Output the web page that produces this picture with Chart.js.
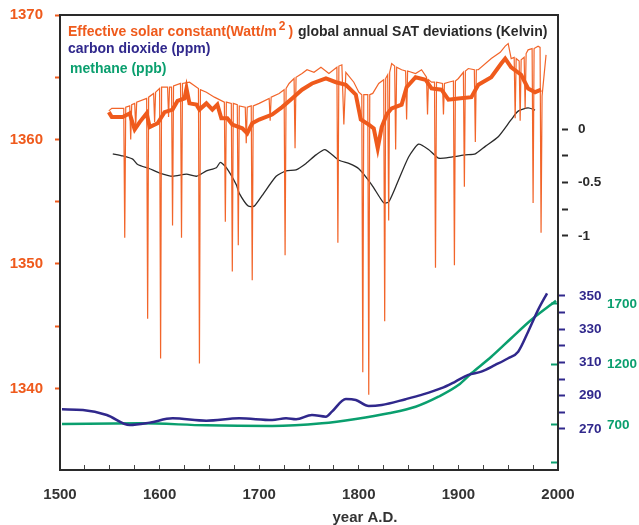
<!DOCTYPE html>
<html><head><meta charset="utf-8">
<script src="https://cdn.jsdelivr.net/npm/chart.js@4.4.1/dist/chart.umd.min.js"></script>
<style>html,body{margin:0;padding:0;background:#fff}#wrap{width:639px;height:525px}</style>
</head><body><div id="wrap"><canvas id="c" width="639" height="525"></canvas></div>
<script>
// ---------- DATA ----------
const xTickYears = [1500,1525,1550,1575,1600,1625,1650,1675,1700,1725,1750,1775,1800,1825,1850,1875,1900,1925,1950,1975,2000];
const xLabelYears = [1500,1600,1700,1800,1900,2000];

const solarTickValues = [1340,1345,1350,1355,1360,1365,1370];
const solarLabelValues = [1340,1350,1360,1370];
const satTickValues = [-1,-0.75,-0.5,-0.25,0];
const satLabelValues = [-1,-0.5,0];
const co2TickValues = [270,280,290,300,310,320,330,340,350];
const co2LabelValues = [270,290,310,330,350];
const ch4TickValues = [390,700,1200,1700];
const ch4LabelValues = [700,1200,1700];

// smoothed effective solar constant (W/m2)
const solarSmoothYears = [1549,1552,1563,1570,1573,1575,1580,1587,1590,1598,
  1605,1613,1618,1625,1627,1630,1637,1640,1647,1653,
  1658,1662,1668,1673,1683,1688,1693,1700,1713,1723,
  1733,1743,1753,1767,1777,1787,1797,1802,1810,1815,
  1819,1823,1828,1833,1843,1848,1857,1867,1873,1883,
  1890,1900,1913,1920,1933,1943,1947,1953,1963,1970,
  1977,1983];
const solarSmoothValues = [1362.2,1361.8,1361.8,1362.1,1361.3,1360.8,1361.4,1362.1,1361.0,1361.3,
  1362.2,1362.4,1363.1,1363.3,1364.1,1362.9,1362.8,1362.4,1362.9,1362.4,
  1362.8,1361.7,1361.7,1361.2,1360.9,1360.5,1361.3,1361.6,1362.0,1362.6,
  1363.3,1364.0,1364.5,1364.9,1364.6,1364.4,1363.6,1361.6,1361.2,1360.9,
  1359.3,1361.0,1362.0,1362.5,1362.8,1364.2,1365.0,1364.8,1364.1,1364.0,
  1363.2,1363.3,1363.4,1364.4,1365.0,1366.1,1366.5,1365.8,1365.2,1364.1,
  1363.8,1364.0];

// annual effective solar constant (W/m2), with volcanic dips
const solarAnnualYears = [1549,1552,1564,1565,1566,1570,1571,1572,1575,1576,
  1577,1587,1588,1589,1594,1595,1596,1600,1601,1602,
  1608,1609,1610,1612,1613,1614,1621,1622,1623,1630,
  1639,1640,1641,1647,1655,1665,1666,1667,1672,1673,
  1674,1678,1679,1680,1686,1687,1688,1692,1693,1694,
  1700,1710,1711,1712,1720,1725,1726,1727,1730,1735,
  1736,1737,1743,1748,1755,1762,1770,1778,1779,1780,
  1783,1785,1787,1795,1800,1803,1804,1805,1809,1810,
  1811,1814,1820,1825,1826,1827,1829,1830,1831,1833,
  1836,1837,1838,1843,1847,1848,1849,1857,1863,1868,
  1869,1870,1873,1876,1877,1878,1884,1885,1886,1890,
  1895,1896,1897,1900,1905,1906,1907,1910,1916,1917,
  1918,1920,1933,1942,1947,1950,1953,1956,1957,1958,
  1961,1962,1963,1966,1967,1968,1970,1974,1975,1976,
  1980,1982,1983,1984,1988];
const solarAnnualValues = [1362.3,1362.5,1362.5,1352.1,1362.6,1362.7,1360.0,1362.8,1362.9,1361.0,
  1363.0,1363.3,1345.6,1363.4,1363.7,1361.4,1363.8,1364.1,1342.4,1364.2,
  1364.2,1361.8,1364.2,1364.2,1353.1,1364.3,1364.5,1352.1,1364.5,1364.6,
  1364.1,1342.0,1364.0,1363.8,1363.4,1363.0,1353.4,1363.0,1362.9,1349.4,
  1362.9,1362.8,1351.5,1362.7,1362.6,1359.7,1362.6,1362.7,1348.7,1362.7,
  1362.9,1363.3,1361.5,1363.4,1363.7,1364.0,1350.7,1364.1,1364.5,1364.9,
  1359.3,1365.0,1365.3,1365.6,1365.4,1365.8,1365.3,1365.8,1351.7,1365.9,
  1366.0,1361.2,1365.4,1364.6,1363.8,1363.6,1341.3,1363.6,1363.6,1339.5,
  1363.6,1363.7,1364.5,1364.8,1345.4,1364.9,1365.2,1353.5,1365.4,1366.1,
  1365.9,1359.2,1365.8,1365.6,1365.5,1361.6,1365.5,1365.3,1365.6,1365.0,
  1362.0,1364.8,1364.6,1364.6,1349.7,1364.6,1364.5,1362.0,1364.5,1364.6,
  1364.7,1349.9,1364.7,1364.9,1365.4,1356.2,1365.5,1365.7,1365.6,1359.8,
  1365.6,1365.6,1366.5,1367.0,1367.5,1367.7,1366.5,1366.6,1361.7,1366.5,
  1366.3,1361.5,1366.4,1366.6,1362.5,1366.9,1367.2,1367.3,1354.9,1367.3,
  1367.5,1367.4,1352.5,1363.5,1366.8];

// global annual SAT deviations (K)
const satYears = [1553,1563,1573,1578,1590,1600,1613,1627,1637,1647,
  1657,1661,1667,1677,1680,1689,1695,1703,1717,1727,
  1737,1747,1757,1766,1780,1790,1800,1813,1825,1830,
  1837,1850,1860,1870,1880,1893,1907,1917,1927,1940,
  1953,1960,1970,1977];
const satValues = [-0.23,-0.25,-0.28,-0.33,-0.37,-0.41,-0.44,-0.42,-0.44,-0.39,
  -0.36,-0.31,-0.36,-0.52,-0.60,-0.72,-0.72,-0.62,-0.44,-0.39,
  -0.38,-0.32,-0.24,-0.19,-0.29,-0.32,-0.37,-0.52,-0.69,-0.68,
  -0.54,-0.26,-0.14,-0.19,-0.27,-0.26,-0.24,-0.23,-0.16,-0.07,
  0.09,0.17,0.20,0.18];

// carbon dioxide (ppm)
const co2Years = [1502,1523,1547,1570,1590,1613,1647,1680,1713,1727,
  1737,1753,1767,1773,1787,1797,1810,1823,1847,1863,
  1883,1897,1910,1923,1937,1950,1960,1970,1980,1989];
const co2Values = [281.8,281.4,278.4,272.4,273.8,276.4,275.0,276.4,275.4,276.4,
  275.8,278.4,277.4,280.4,288.0,287.4,283.8,284.4,287.9,290.5,
  294.5,298.5,302.5,304.5,308.5,312.5,316.5,328.5,341.6,351.6];

// methane (ppb)
const ch4Years = [1502,1580,1647,1713,1763,1797,1830,1857,1880,1900,1913,1933,1953,1973,1998];
const ch4Values = [708,714,697,692,714,750,797,851,934,1030,1127,1264,1417,1568,1727];

const legendSolar = 'Effective solar constant(Watt/m';
const legendSolarSup = '2';
const legendSAT = 'global annual SAT deviations (Kelvin)';
const legendCO2 = 'carbon dioxide (ppm)';
const legendCH4 = 'methane (ppb)';
const xTitle = 'year A.D.';

// ---------- STYLE ----------
const FONT = '"Liberation Sans", Arial, Helvetica, sans-serif';
const ORANGE = '#EF5A1C';
const ORANGE_THIN = '#F2652A';
const PURPLE = '#30288C';
const GREEN = '#0A9F6E';
const DARK = '#2a2a2a';

const pts = (xs, ys) => xs.map((x, i) => ({x: x, y: ys[i]}));
const setTicks = vals => s => { s.ticks = vals.map(v => ({value: v})); };
const fitV = w => s => { s.width = w; s.paddingTop = 0; s.paddingBottom = 0; };
const fitH = h => s => { s.height = h; s.paddingLeft = 0; s.paddingRight = 0; };

const textPlugin = {
  id: 'texts',
  afterLayout(chart) {
    // let the narrow right-hand axes draw their labels to the canvas edge
    ['yCH4', 'yCO2', 'ySAT'].forEach(id => { chart.scales[id].right = chart.width; });
  },
  afterDraw(chart) {
    const ctx = chart.ctx;
    ctx.save();
    ctx.textBaseline = 'alphabetic';
    ctx.textAlign = 'left';
    ctx.font = 'bold 14px ' + FONT;
    ctx.fillStyle = ORANGE;
    let x = 68;
    ctx.fillText(legendSolar, x, 36);
    x += ctx.measureText(legendSolar).width + 2;
    ctx.font = 'bold 12px ' + FONT;
    ctx.fillText(legendSolarSup, x, 30);
    x += ctx.measureText(legendSolarSup).width + 3;
    ctx.font = 'bold 14px ' + FONT;
    ctx.fillText(')', x, 36);
    ctx.fillStyle = DARK;
    ctx.fillText(legendSAT, 298, 36);
    ctx.fillStyle = PURPLE;
    ctx.fillText(legendCO2, 68, 53);
    ctx.fillStyle = GREEN;
    ctx.fillText(legendCH4, 70, 73);
    ctx.fillStyle = '#333';
    ctx.font = 'bold 15px ' + FONT;
    ctx.textAlign = 'center';
    ctx.fillText(xTitle, 365, 522);
    ctx.restore();
  }
};

new Chart(document.getElementById('c'), {
  type: 'line',
  data: {
    datasets: [
      {data: pts(solarSmoothYears, solarSmoothValues), yAxisID: 'ySolar', borderColor: ORANGE, borderWidth: 4, pointRadius: 0, tension: 0},
      {data: pts(solarAnnualYears, solarAnnualValues), yAxisID: 'ySolar', borderColor: ORANGE_THIN, borderWidth: 1.2, pointRadius: 0, tension: 0},
      {data: pts(satYears, satValues), yAxisID: 'ySAT', borderColor: DARK, borderWidth: 1.3, pointRadius: 0, tension: 0.2},
      {data: pts(co2Years, co2Values), yAxisID: 'yCO2', borderColor: PURPLE, borderWidth: 2.5, pointRadius: 0, cubicInterpolationMode: 'monotone'},
      {data: pts(ch4Years, ch4Values), yAxisID: 'yCH4', borderColor: GREEN, borderWidth: 2.5, pointRadius: 0, cubicInterpolationMode: 'monotone'}
    ]
  },
  options: {
    responsive: false,
    animation: false,
    devicePixelRatio: 1,
    layout: {padding: {top: 15, left: 0, right: 0, bottom: 0}},
    plugins: {legend: {display: false}, tooltip: {enabled: false}},
    scales: {
      x: {
        type: 'linear', position: 'bottom', min: 1500, max: 2000,
        afterBuildTicks: setTicks(xTickYears),
        ticks: {autoSkip: false, maxRotation: 0, padding: 21, color: '#333',
          font: {family: FONT, size: 15, weight: 'bold'},
          callback: v => xLabelYears.includes(v) ? String(v) : ''},
        grid: {drawOnChartArea: false, drawTicks: true, tickLength: -5, tickColor: '#444', tickWidth: 1},
        border: {display: true, color: DARK, width: 2},
        afterFit: fitH(55)
      },
      xTop: {
        type: 'linear', position: 'top', min: 1500, max: 2000,
        ticks: {display: false},
        grid: {drawOnChartArea: false, drawTicks: false},
        border: {display: true, color: DARK, width: 2},
        afterFit: fitH(0)
      },
      ySolar: {
        position: 'left', min: 1333.45, max: 1370,
        afterBuildTicks: setTicks(solarTickValues),
        ticks: {autoSkip: false, padding: 12, color: ORANGE,
          font: {family: FONT, size: 15, weight: 'bold'},
          callback: v => solarLabelValues.includes(v) ? String(v) : ''},
        grid: {drawOnChartArea: false, tickLength: 5, tickColor: ORANGE, tickWidth: 2},
        border: {display: true, color: DARK, width: 2},
        afterFit: fitV(60)
      },
      yCH4: {
        position: 'right', weight: 1, min: 328, max: 4088,
        afterBuildTicks: setTicks(ch4TickValues),
        ticks: {autoSkip: false, padding: 56, color: GREEN,
          font: {family: FONT, size: 13.5, weight: 'bold'},
          callback: v => ch4LabelValues.includes(v) ? String(v) : ''},
        grid: {drawOnChartArea: false, tickLength: -7, tickColor: GREEN, tickWidth: 2},
        border: {display: true, color: DARK, width: 2},
        afterFit: fitV(0)
      },
      yCO2: {
        position: 'right', weight: 2, min: 245.3, max: 519.0,
        afterBuildTicks: setTicks(co2TickValues),
        ticks: {autoSkip: false, padding: 14, color: PURPLE,
          font: {family: FONT, size: 13.5, weight: 'bold'},
          callback: v => co2LabelValues.includes(v) ? String(v) : ''},
        grid: {drawOnChartArea: false, tickLength: 7, tickColor: PURPLE, tickWidth: 2},
        border: {display: false},
        afterFit: fitV(4)
      },
      ySAT: {
        position: 'right', weight: 3, min: -3.193, max: 1.071,
        afterBuildTicks: setTicks(satTickValues),
        ticks: {autoSkip: false, padding: 10, color: DARK,
          font: {family: FONT, size: 13.5, weight: 'bold'},
          callback: v => satLabelValues.includes(v) ? String(v) : ''},
        grid: {drawOnChartArea: false, tickLength: 6, tickColor: DARK, tickWidth: 2},
        border: {display: false},
        afterFit: fitV(77)
      }
    }
  },
  plugins: [textPlugin]
});
</script>
</body></html>
